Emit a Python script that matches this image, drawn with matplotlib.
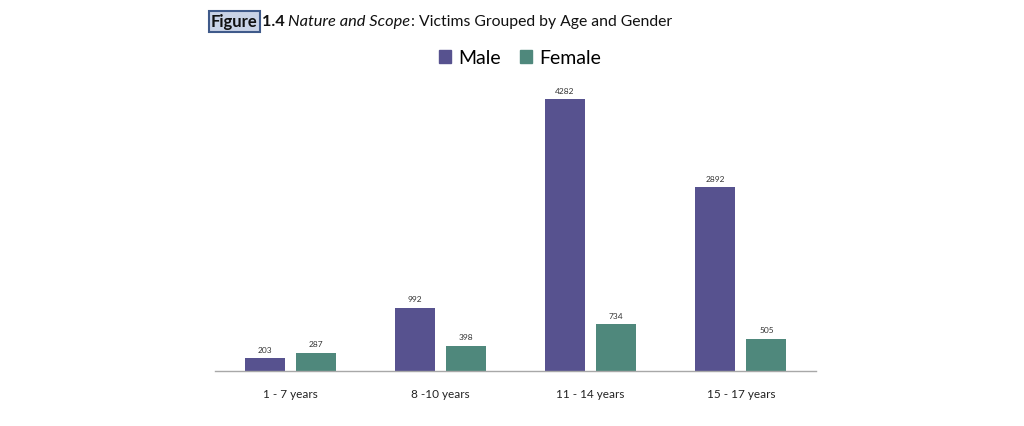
import matplotlib
matplotlib.use("Agg")
import matplotlib.pyplot as plt
from matplotlib.patches import Patch
import numpy as np

categories = ["1 - 7 years", "8 -10 years", "11 - 14 years", "15 - 17 years"]
male = [203, 992, 4282, 2892]
female = [287, 398, 734, 505]

male_color = "#57528F"
female_color = "#4F887C"

plt.rcParams['font.family'] = ['Lato', 'DejaVu Sans']

fig = plt.figure(figsize=(10.24, 4.27), dpi=100)
ax = fig.add_axes([215/1024, 1 - 372/427, 601/1024, 292/427])

x = np.arange(len(categories))
w = 0.266
off = 0.17
bm = ax.bar(x - off, male, w, color=male_color)
bf = ax.bar(x + off, female, w, color=female_color)
for rects, vals in ((bm, male), (bf, female)):
    for r, v in zip(rects, vals):
        ax.annotate(str(v), (r.get_x() + r.get_width()/2, v), xytext=(0, 4),
                    textcoords="offset points", ha="center", va="bottom",
                    fontsize=6, color="#333333")

ax.set_xlim(-0.5, 3.5)
ax.set_ylim(0, 4600)
ax.set_yticks([])
ax.set_xticks(x)
ax.set_xticklabels(categories, fontsize=8.5, color="#222222")
ax.tick_params(axis='x', length=0, pad=12)
for s in ("top", "right", "left"):
    ax.spines[s].set_visible(False)
ax.spines["bottom"].set_color("#A8A8A8")
ax.spines["bottom"].set_linewidth(1.0)

# legend
handles = [Patch(color=male_color, label="Male"), Patch(color=female_color, label="Female")]
fig.legend(handles=handles, loc="center", bbox_to_anchor=(520/1024, 1 - 59/427), ncol=2,
           frameon=False, fontsize=14, handlelength=0.62, handleheight=0.62,
           handletextpad=0.35, columnspacing=1.0)

# title built from pieces
fig.canvas.draw()
renderer = fig.canvas.get_renderer()
xpos = 211/1024
ypos = 1 - 22/427
pieces = [
    ("Figure", 12, dict(fontweight="bold", bbox=dict(boxstyle="square,pad=0.15", facecolor="#C9D3E6", edgecolor="#3F5A8A", linewidth=1.5))),
    (" 1.4 ", 11.8, dict(fontweight="bold")),
    ("Nature and Scope", 11.8, dict(fontstyle="italic")),
    (": Victims Grouped by Age and Gender", 11.3, dict()),
]
for txt, fs, kw in pieces:
    t = fig.text(xpos, ypos, txt, fontsize=fs, va="center", ha="left", color="#111111", **kw)
    bb = t.get_window_extent(renderer=renderer)
    if "bbox" in kw:
        t2 = fig.text(0, 0, txt, fontsize=fs, fontweight="bold")
        bb = t2.get_window_extent(renderer=renderer)
        t2.remove()
    xpos += bb.width / fig.bbox.width

fig.savefig("out.png", dpi=100, facecolor="white")
